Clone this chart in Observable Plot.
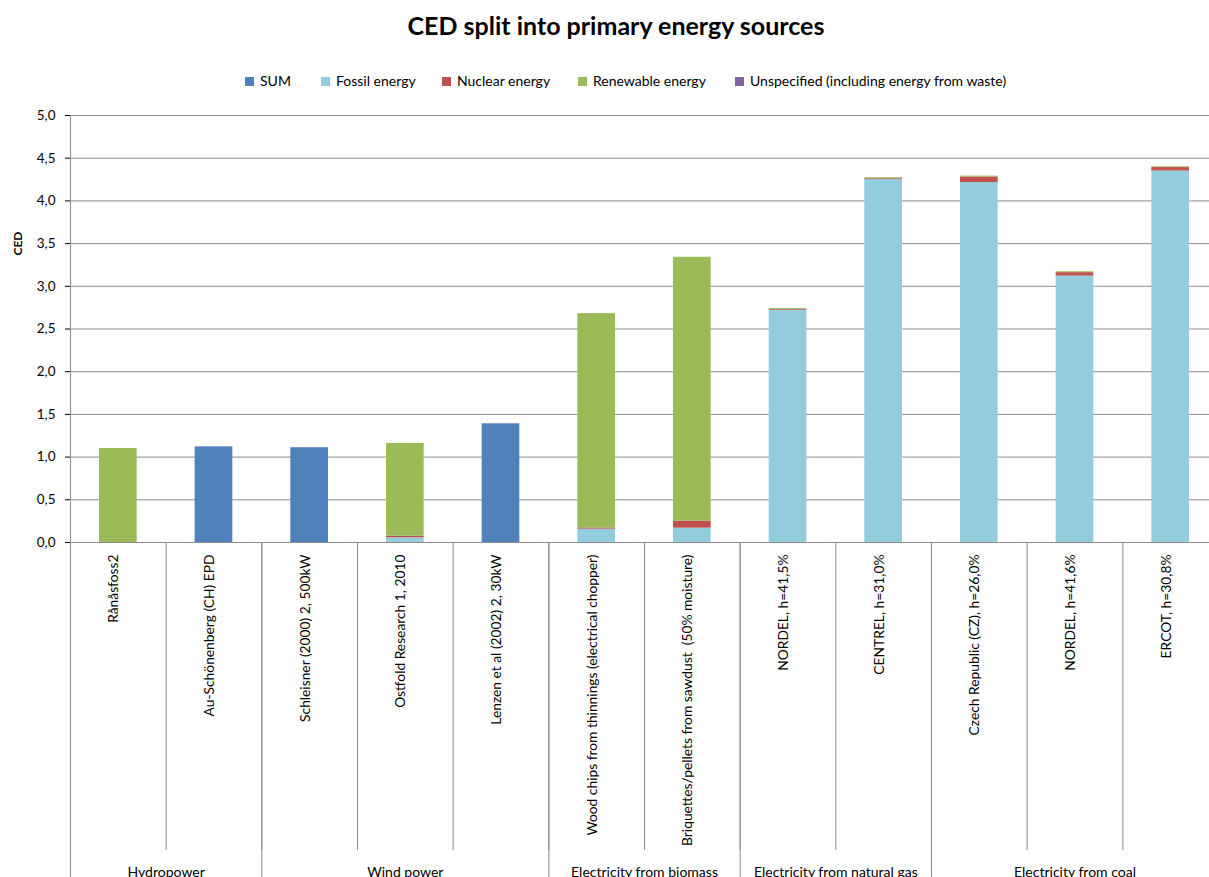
<!DOCTYPE html>
<html>
<head>
<meta charset="utf-8">
<script src="https://cdn.jsdelivr.net/npm/d3@7"></script>
<script src="https://cdn.jsdelivr.net/npm/@observablehq/plot@0.6"></script>
<style>
  html, body { margin: 0; padding: 0; background: #fff; overflow: hidden; width: 1209px; height: 877px; }
  body { position: relative; font-family: Lato, "Open Sans", sans-serif; color: #000; }
  #title { position: absolute; top: 10px; left: 0; width: 1232px; text-align: center; font-weight: bold; font-size: 25px; line-height: 30px; }
  #legend { position: absolute; top: 72px; left: 0; width: 1209px; height: 18px; font-size: 14px; }
  .li { position: absolute; top: 0; height: 18px; line-height: 18px; white-space: nowrap; }
  .sw { display: inline-block; width: 9px; height: 9px; margin-right: 6px; vertical-align: 0px; }
  #chart { position: absolute; top: 100px; left: 0; width: 1219px; }
  #chart svg { max-width: none !important; }
</style>
</head>
<body>
<div id="title">CED split into primary energy sources</div>
<div id="legend"></div>
<div id="chart"></div>
<script>
// ---- data ----
const categories = [
  "Rånåsfoss2",
  "Au-Schönenberg (CH) EPD",
  "Schleisner (2000) 2, 500kW",
  "Ostfold Research 1, 2010",
  "Lenzen et al (2002) 2, 30kW",
  "Wood chips from thinnings (electrical chopper)",
  "Briquettes/pellets from sawdust  (50% moisture)",
  "NORDEL, h=41,5%",
  "CENTREL, h=31,0%",
  "Czech Republic (CZ), h=26,0%",
  "NORDEL, h=41,6%",
  "ERCOT, h=30,8%"
];
const groupNames = ["Hydropower", "Wind power", "Electricity from biomass", "Electricity from natural gas", "Electricity from coal"];
const groupSizes = [2, 3, 2, 2, 3];
const seriesNames = ["SUM", "Fossil energy", "Nuclear energy", "Renewable energy", "Unspecified (including energy from waste)"];
const sumValues         = [0,    1.12, 1.11, 0,     1.39, 0,     0,     0,    0,    0,     0,    0];
const fossilValues      = [0,    0,    0,    0.055, 0,    0.156, 0.168, 2.72, 4.25, 4.215, 3.12, 4.35];
const nuclearValues     = [0,    0,    0,    0.018, 0,    0.014, 0.082, 0.01, 0.01, 0.065, 0.04, 0.04];
const renewableValues   = [1.10, 0,    0,    1.087, 0,    2.51,  3.09,  0.01, 0.01, 0.01,  0.01, 0.01];
const unspecifiedValues = [0,    0,    0,    0,     0,    0,     0,     0,    0,    0,     0,    0];
const yTicks = [0, 0.5, 1, 1.5, 2, 2.5, 3, 3.5, 4, 4.5, 5];

// ---- styles ----
const colors = ["#4F81BD", "#93CDDD", "#C0504D", "#9BBB59", "#8064A2"];
const gridColor = "#8C8C8C";
const legendLeft = [245, 321, 442, 578, 735];

// ---- derived table ----
const seriesValues = [sumValues, fossilValues, nuclearValues, renewableValues, unspecifiedValues];
const rows = [];
seriesNames.forEach((s, k) => {
  seriesValues[k].forEach((v, i) => { if (v > 0) rows.push({idx: i, series: s, value: v}); });
});
const groupStarts = groupSizes.map((s, i) => d3.sum(groupSizes.slice(0, i)));
const groupBounds = [...groupStarts, d3.sum(groupSizes)];
const groupCenters = groupStarts.map((s, i) => s + groupSizes[i] / 2);
const catBounds = d3.range(categories.length + 1);

// ---- legend ----
const legend = document.getElementById("legend");
seriesNames.forEach((s, k) => {
  const item = document.createElement("div");
  item.className = "li";
  item.style.left = legendLeft[k] + "px";
  item.innerHTML = `<span class="sw" style="background:${colors[k]}"></span>${s}`;
  legend.appendChild(item);
});

// ---- chart ----
const plot = Plot.plot({
  width: 1219,
  height: 777,
  marginLeft: 70,
  marginRight: 1,
  marginTop: 15,
  marginBottom: 335,
  style: {fontFamily: "Lato, 'Open Sans', sans-serif", fontSize: "13.5px", color: "#000", background: "#fff", overflow: "visible", maxWidth: "none"},
  x: {domain: [0, categories.length], axis: null},
  y: {domain: [0, 5], ticks: yTicks, tickFormat: d => d.toFixed(1).replace(".", ","), tickSize: 5, tickPadding: 10, label: null},
  color: {domain: seriesNames, range: colors},
  marks: [
    Plot.ruleY(yTicks, {stroke: gridColor, strokeWidth: 1}),
    Plot.rectY(rows, {x: "idx", interval: 1, y: "value", fill: "series", insetLeft: 29, insetRight: 29}),
    Plot.ruleX([0], {stroke: gridColor}),
    Plot.ruleX(catBounds, {stroke: gridColor, insetTop: 427, insetBottom: -308}),
    Plot.ruleX(groupBounds, {stroke: gridColor, insetTop: 427, insetBottom: -340}),
    Plot.text(categories, {x: (d, i) => i + 0.5, frameAnchor: "bottom", rotate: -90, textAnchor: "end", dy: 12, fontSize: 13.8}),
    Plot.text(groupNames, {x: (d, i) => groupCenters[i], frameAnchor: "bottom", dy: 334, fontSize: 14}),
    Plot.text(["CED"], {frameAnchor: "top-left", dx: -57, dy: 140, rotate: -90, fontWeight: "bold", fontSize: 12})
  ]
});
document.getElementById("chart").appendChild(plot);
</script>
</body>
</html>
